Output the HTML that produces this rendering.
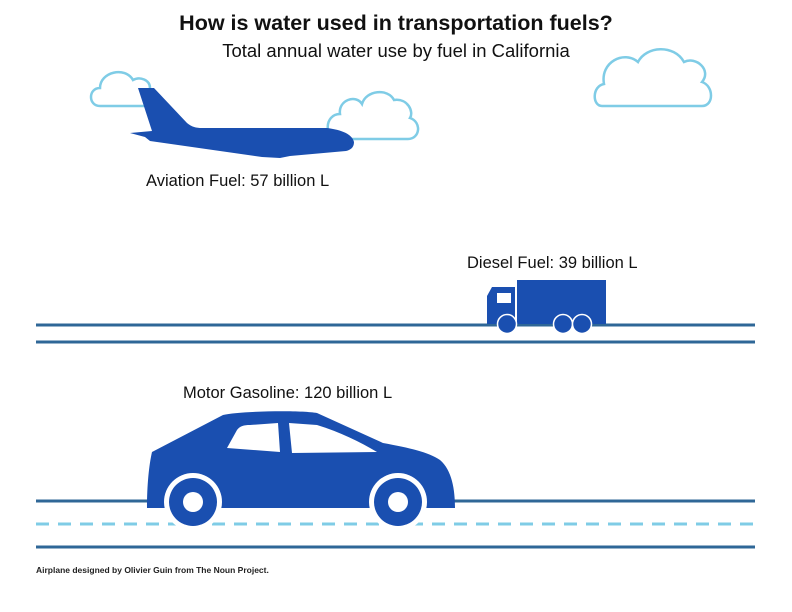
<!DOCTYPE html>
<html><head><meta charset="utf-8"><style>
body{margin:0;background:#fff}
svg{display:block;font-family:"Liberation Sans",sans-serif}
</style></head><body>
<svg width="792" height="612" viewBox="0 0 792 612">
<text x="396" y="30" text-anchor="middle" font-size="21.5" font-weight="bold" fill="#111">How is water used in transportation fuels?</text>
<text x="396" y="57" text-anchor="middle" font-size="18.5" fill="#111">Total annual water use by fuel in California</text>
<g fill="none" stroke="#7fcce6" stroke-width="2.5">
<path d="M100,106 C88,106 88,88 100,88 C100,72 125,66 133,80 C140,76 150,80 150,88 L150,106 Z"/>
<path d="M338,139 C324,139 324,114 340,114 C338,100 356,94 362,104 C366,90 388,88 394,100 C408,98 414,112 410,118 C422,122 420,139 408,139 Z"/>
<path d="M602,106 C592,106 592,86 604,84 C600,62 624,50 638,62 C646,46 674,44 684,62 C696,56 712,70 702,82 C714,86 714,106 702,106 Z"/>
</g>
<path fill="#1a4fb0" d="M138,88 L154,88 L187,123 C192,127 196,128 202,128 L327,128 C342,130 352,134 354,142 C354,148 350,150 346,151 L290,156 L280,158 L262,157 L150,141 L145,137 L130,133 L152,131 Z"/>
<text x="146" y="186" font-size="16.5" fill="#111">Aviation Fuel: 57 billion L</text>
<text x="467" y="268" font-size="16.5" fill="#111">Diesel Fuel: 39 billion L</text>
<text x="183" y="398" font-size="16.5" fill="#111">Motor Gasoline: 120 billion L</text>
<g stroke="#2f6797" stroke-width="3">
<line x1="36" y1="325" x2="755" y2="325"/>
<line x1="36" y1="342" x2="755" y2="342"/>
<line x1="36" y1="501" x2="755" y2="501"/>
<line x1="36" y1="547" x2="755" y2="547"/>
</g>
<line x1="36" y1="524" x2="755" y2="524" stroke="#7fcce6" stroke-width="3" stroke-dasharray="13,9"/>
<g>
<rect x="517" y="280" width="89" height="44" fill="#1a4fb0"/>
<path d="M487,324 L487,296 L492,287 L515,287 L515,324 Z" fill="#1a4fb0"/>
<rect x="497" y="293" width="14" height="10" fill="#fff"/>
<g fill="#1a4fb0" stroke="#fff" stroke-width="1.5">
<circle cx="507" cy="324" r="9.5"/><circle cx="563" cy="324" r="9.5"/><circle cx="582" cy="324" r="9.5"/>
</g>
</g>
<g>
<path fill="#1a4fb0" d="M152,452 L223,415 C240,411 300,410 317,413 L383,443 C410,448 428,452 440,460 C452,470 455,490 455,508 L147,508 C147,485 149,465 152,452 Z"/>
<path fill="#fff" d="M227,448 L237,430 C240,426 244,425 250,425 L278,423 L280,452 Z"/>
<path fill="#fff" d="M289,423 L317,425 C340,432 360,442 377,452 L292,453 Z"/>
<g>
<circle cx="193" cy="502" r="29" fill="#fff"/><circle cx="193" cy="502" r="24" fill="#1a4fb0"/><circle cx="193" cy="502" r="10" fill="#fff"/>
<circle cx="398" cy="502" r="29" fill="#fff"/><circle cx="398" cy="502" r="24" fill="#1a4fb0"/><circle cx="398" cy="502" r="10" fill="#fff"/>
</g>
</g>
<text x="36" y="573" font-size="8.5" font-weight="bold" fill="#222">Airplane designed by Olivier Guin from The Noun Project.</text>
</svg>
</body></html>
